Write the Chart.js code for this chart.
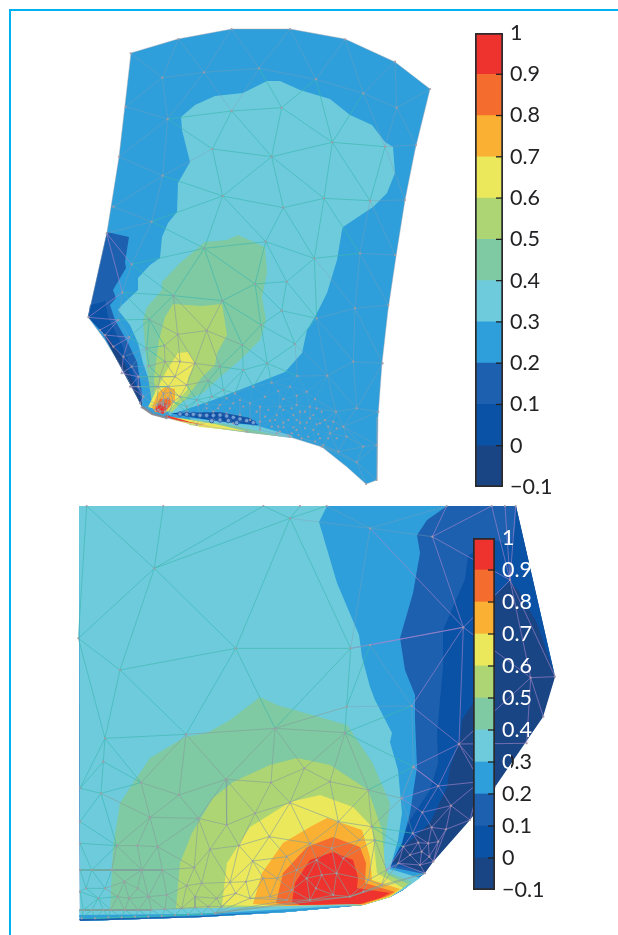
<!DOCTYPE html>
<html><head><meta charset="utf-8">
<style>
html,body{margin:0;padding:0;background:#fff;width:618px;height:935px;overflow:hidden}
canvas{position:absolute;display:block}
#frameTop{position:absolute;left:9px;top:9px;width:609px;height:2px;background:#00b3f0}
#frameLeft{position:absolute;left:9px;top:9px;width:2px;height:926px;background:#00b3f0}
#topMap,#bottomMap{filter:blur(.45px)}
</style>
<script src="https://cdn.jsdelivr.net/npm/chart.js@4/dist/chart.umd.min.js"></script>
</head><body>
<div id="frameTop"></div><div id="frameLeft"></div>
<canvas id="topMap" width="618" height="500" style="left:0;top:0"></canvas>
<canvas id="bottomMap" width="618" height="435" style="left:0;top:500px"></canvas>
<canvas id="topBar" width="143" height="494" style="left:475px;top:13px"></canvas>
<canvas id="bottomBar" width="145" height="392" style="left:473px;top:518px"></canvas>
<script>
// colour scale
const levels=[-0.1,0,0.1,0.2,0.3,0.4,0.5,0.6,0.7,0.8,0.9,1];
const levelColors=['#1a4585','#0a52a5','#1e60b0','#2e9fdb','#6ecbdc','#7fc9a3','#aed573','#ebe85c','#fab032','#f56d2e','#ee332e'];

// top map: contour outlines [x,y]
const topOutline=[[131,53],[178,39],[232,29],[290,29],[345,39],[395,62],[430,89],[415,150],[405,200],[397,250],[388,310],[382,363],[378,417],[377,480],[366,484],[347,467],[322,447],[290,437],[247,432],[197,425],[167,418],[152,414],[142,407],[123,370],[105,340],[88,317],[107,232],[119,157]];
const topL01=[[107,232],[129,237],[125,262],[126,268],[113,290],[116,298],[110,305],[115,320],[128,343],[137,362],[142,393],[142,407],[137,397],[118,362],[103,333],[88,317]];
const topL00=[[88,317],[90,305],[103,302],[105,300],[108,317],[122,345],[135,378],[142,407],[137,397],[118,362],[103,333]];
const topLm1=[[103,333],[118,362],[137,397],[142,407],[140,395],[122,358],[107,335]];
const topL03=[[267,81],[280,81],[300,90],[330,99],[350,115],[372,125],[385,142],[393,147],[395,173],[387,193],[373,207],[343,227],[342,230],[337,260],[327,293],[315,317],[307,330],[302,353],[285,372],[247,387],[213,400],[190,408],[170,415],[150,383],[143,363],[138,343],[130,325],[118,310],[122,305],[138,290],[138,278],[150,265],[160,258],[162,237],[168,223],[177,212],[178,183],[190,162],[182,130],[181,117],[195,105],[215,96],[243,93]];
const topL04=[[238,235],[265,247],[267,273],[262,297],[266,320],[260,340],[240,360],[220,377],[203,393],[180,403],[170,412],[152,403],[148,377],[145,347],[143,320],[147,307],[162,290],[162,282],[180,263],[205,242],[227,240]];
const topL05=[[173,304],[202,306],[222,304],[227,335],[217,353],[215,365],[202,377],[187,397],[172,412],[155,407],[154,377],[159,340],[165,317]];
const topL06=[[178,353],[188,352],[195,363],[188,378],[187,390],[167,412],[148,407],[158,387],[167,370]];
const topL07=[[165,387],[175,389],[175,400],[165,413],[155,412],[152,407],[158,393]];
const topL08=[[160,399],[170,398],[171,405],[163,414],[154,410]];
const topL09=[[158,404],[166,403],[167,408],[163,414],[155,411]];
const topBandBlue=[[170,413],[220,412],[250,418],[258,425],[223,422],[190,417]];
const topBandCyan=[[190,418],[258,426],[293,436],[290,438],[250,432],[195,425]];
const topBandGreen=[[180,418],[230,425],[285,437],[250,433],[190,425]];
const topBandYellow=[[172,417],[215,424],[250,432],[200,427],[170,419]];
const topBandRed=[[166,415],[190,422],[210,426],[180,421],[165,417]];
const topTipEdge=[[142,407],[152,414],[167,418]];
const topBandRings=[[300,552],[320,553],[340,553],[360,556],[380,556],[400,556],[420,555],[440,558],[460,562],[480,567],[500,572],[520,578],[395,572],[420,570],[445,572],[470,578]];
const topDenseDots=[[355,525],[380,535],[415,535],[450,535],[490,530],[530,545],[565,540],[610,540],[635,535],[675,545],[700,555],[725,545],[555,560],[585,570],[625,570],[650,570],[680,578],[720,580],[745,590],[770,595],[575,590],[610,592],[640,592],[675,595],[715,612],[745,625],[770,625],[600,605],[635,610],[655,615],[685,620],[720,625]];

// bottom map: contour outlines [x,y]
const botOutline=[[79,506],[516,506],[555,677],[543,717],[495,787],[470,820],[433,862],[425,873],[403,890],[390,897],[363,905],[287,912],[203,917],[80,921]];
const botL00=[[79,506],[516,506],[555,676],[537,623],[520,593],[510,581],[495,596],[473,703],[462,720],[460,740],[450,767],[447,787],[430,823],[403,847],[393,862],[425,873],[403,890],[390,897],[363,905],[287,912],[203,917],[80,921]];
const botL01=[[79,506],[516,506],[515,530],[510,545],[495,540],[477,549],[468,556],[465,579],[443,630],[443,667],[437,733],[438,763],[430,790],[410,820],[398,850],[391,864],[425,872],[403,890],[390,897],[363,905],[287,912],[203,917],[80,921]];
const botL02=[[79,506],[447,506],[427,520],[417,535],[420,553],[413,593],[400,638],[405,670],[415,695],[415,720],[417,767],[410,813],[402,843],[392,862],[390,867],[424,874],[403,890],[390,897],[363,905],[287,912],[203,917],[80,921]];
const botL03=[[79,506],[327,506],[319,522],[337,583],[359,635],[362,657],[370,687],[375,700],[392,733],[390,742],[398,770],[402,813],[398,840],[390,869],[420,878],[403,890],[390,897],[363,905],[287,912],[203,917],[80,921]];
const botL04=[[110,910],[113,847],[120,803],[133,783],[150,758],[185,737],[207,733],[230,720],[260,697],[277,705],[347,725],[372,762],[390,803],[385,840],[382,870],[412,882],[390,897],[363,905],[287,908],[110,913]];
const botL05=[[176,908],[180,863],[192,833],[213,798],[233,782],[270,765],[297,758],[330,765],[368,790],[382,830],[385,867],[388,875],[408,884],[390,897],[363,905],[287,908]];
const botL06=[[222,905],[227,863],[250,827],[290,802],[320,795],[353,807],[372,827],[377,873],[403,888],[390,897],[363,905],[287,907]];
const botL07=[[253,904],[262,873],[283,843],[310,827],[327,818],[362,830],[370,857],[372,880],[400,889],[390,896],[363,905],[287,906]];
const botL08=[[276,903],[283,873],[307,847],[333,837],[360,847],[366,863],[365,883],[395,892],[385,897],[363,904],[287,905]];
const botL09=[[292,902],[295,883],[310,860],[333,852],[353,860],[358,877],[357,888],[390,893],[380,898],[360,904],[300,905]];
const botStripCyan=[[79,910],[176,909],[287,906],[363,904],[287,912],[203,917],[80,921]];
const botStripBlue=[[79,915],[200,914],[290,909],[360,905],[287,912],[203,917],[80,921]];
const botStripDeep=[[79,919],[200,916],[287,911],[203,917],[80,921]];

// mesh nodes, in crop coordinates
const topNodesUpper=[[152,130],[295,87],[455,57],[630,57],[795,88],[945,155],[1050,237],[1008,405],[975,570],[137,290],[117,440],[100,590],[80,670],[247,203],[372,187],[537,175],[708,208],[850,250],[950,293],[263,327],[455,303],[605,293],[757,397],[915,410],[397,417],[575,440],[248,497],[428,558],[610,593],[732,565],[870,572],[215,635],[557,695],[703,745],[840,730],[945,735]];
const topNodesLower=[[373,55],[155,103],[525,162],[620,155],[127,187],[280,197],[427,212],[605,242],[710,265],[825,235],[925,225],[115,270],[208,268],[293,313],[380,302],[543,285],[75,315],[253,347],[487,345],[645,342],[148,322],[200,355],[345,400],[420,410],[562,400],[820,395],[207,408],[285,440],[385,452],[490,420],[652,438],[742,437],[908,400],[595,483],[650,497],[705,507],[768,545],[830,535],[895,545],[510,520],[555,500],[690,530],[800,620],[850,650],[890,645],[775,665],[730,645],[830,697],[890,750],[858,762],[600,530],[650,525],[540,530],[590,555],[640,555],[690,565],[735,570],[540,575],[595,590],[650,600],[700,600],[750,610],[625,615],[665,625],[705,635],[480,510],[440,505],[395,500],[350,510],[320,530],[250,510],[235,470],[320,465],[255,395],[300,395],[240,440],[265,470],[175,470],[175,440],[155,410],[130,380],[100,350],[60,300],[150,470],[125,430],[180,520],[185,532],[260,565],[350,585],[500,605],[630,620],[725,650],[25,262],[190,500],[300,500],[235,540],[250,525],[280,515],[400,545],[440,550],[480,555],[510,570],[360,555],[320,545],[400,570],[460,580],[540,600],[590,610],[430,480],[465,490],[520,470],[575,458],[630,470],[680,485],[380,522],[420,525],[460,520],[610,507],[660,545],[710,535],[760,575],[570,572],[610,578],[660,578],[710,583],[790,590],[230,525],[245,520],[260,530],[240,545],[255,545],[225,540],[265,505],[250,490],[272,488]];
const botNodesUpper=[[660,55],[253,205],[497,445],[842,445],[150,510],[280,18],[50,18],[580,18],[690,18],[25,415],[770,18],[900,85]];
const botNodesLower=[[348,103],[105,115],[615,85],[825,98],[213,248],[468,238],[780,245],[703,205],[603,248],[895,270],[93,280],[327,285],[660,308],[555,340],[30,365],[240,352],[385,355],[470,375],[805,365],[598,410],[905,380],[140,437],[202,437],[263,440],[420,448],[507,437],[650,470],[720,430],[785,445],[868,420],[915,420],[548,483],[580,535],[622,535],[680,510],[740,480],[820,475],[65,510],[125,510],[215,510],[277,510],[373,503],[480,547],[528,545],[755,525],[800,520],[710,535],[665,570],[738,565],[48,565],[105,565],[163,545],[203,565],[350,557],[395,550],[497,580],[85,595],[143,590],[177,595],[235,590],[290,585],[375,590],[440,595],[540,595],[600,590],[650,600],[720,600],[790,585],[840,590],[880,575],[950,510],[895,540],[935,555],[1030,200],[995,295],[30,265],[30,430],[30,510],[30,575],[30,630],[830,20],[100,185]];
const botNodesRight=[[187,110],[280,382],[420,240],[482,533],[125,618],[267,732],[130,802],[205,858],[157,937],[243,917],[185,982],[128,1000],[228,988],[100,1040],[145,1028],[175,1030],[205,1025],[120,1065],[155,1055],[178,1070],[85,1090],[150,1095],[365,18],[405,18],[230,18],[555,530],[437,18],[0,435],[330,845],[470,730],[520,650],[375,860],[300,960],[190,1085],[165,1120]];
const botNodesStrip=[[20,175],[60,175],[100,172],[140,172],[180,170],[220,170],[260,168],[300,165],[340,163],[380,162],[420,160],[25,150],[50,150],[85,150],[107,150],[150,150],[190,150],[230,150],[270,148],[320,145],[360,142],[400,140],[440,140]];

const pts=a=>a.map(([x,y])=>({x,y}));
const crop=(ox,oy,a)=>a.map(([x,y])=>({x:ox+x/3,y:oy+y/3}));
const inside=(p,poly)=>{let c=false;for(let i=0,j=poly.length-1;i<poly.length;j=i++){const [xi,yi]=poly[i],[xj,yj]=poly[j];if((yi>p.y)!==(yj>p.y)&&p.x<(xj-xi)*(p.y-yi)/(yj-yi)+xi)c=!c;}return c;};
const side=(a,b,c)=>(b.x-a.x)*(c.y-a.y)-(b.y-a.y)*(c.x-a.x);
const crosses=(a,b,c,d)=>{if(a===c||a===d||b===c||b===d)return false;return side(a,b,c)*side(a,b,d)<0&&side(c,d,a)*side(c,d,b)<0;};
function meshEdges(nodes,outline){
  const pairs=[];
  for(let i=0;i<nodes.length;i++)for(let j=i+1;j<nodes.length;j++){
    const a=nodes[i],b=nodes[j],len=Math.hypot(a.x-b.x,a.y-b.y);
    if(len<.5)continue;
    const mx=(a.x+b.x)/2,my=(a.y+b.y)/2,nx=(b.y-a.y)/len*1.5,ny=(a.x-b.x)/len*1.5;
    if(inside({x:mx+nx,y:my+ny},outline)&&inside({x:mx-nx,y:my-ny},outline))pairs.push([a,b,len]);
  }
  pairs.sort((p,q)=>p[2]-q[2]);
  const kept=[];
  for(const p of pairs){if(!kept.some(k=>crosses(p[0],p[1],k[0],k[1])))kept.push(p);}
  return kept;
}
function meshDatasets(edges,classify,nodes){
  const groups={};
  for(const [a,b] of edges){
    const key=classify({x:(a.x+b.x)/2,y:(a.y+b.y)/2});
    (groups[key]=groups[key]||[]).push(a,b,{x:NaN,y:NaN});
  }
  const out=Object.keys(groups).map(c=>({data:groups[c],showLine:true,fill:false,borderColor:c,borderWidth:.8,pointRadius:0,spanGaps:false}));
  out.push({data:nodes,showLine:false,pointRadius:1.1,pointBackgroundColor:'rgba(165,155,165,.95)',pointBorderWidth:0});
  return out;
}
const layer=(poly,level)=>({data:pts(poly),showLine:true,fill:'shape',backgroundColor:levelColors[level],borderWidth:0,pointRadius:0});
function drawMap(id,yMin,yMax,layers,extra){
  const datasets=layers.concat(extra).reverse(); // first dataset is painted last
  new Chart(document.getElementById(id),{type:'scatter',data:{datasets},options:{
    responsive:false,animation:false,events:[],layout:{padding:0,autoPadding:false},
    plugins:{legend:{display:false},tooltip:{enabled:false}},
    scales:{x:{type:'linear',display:false,min:0,max:618},y:{type:'linear',display:false,min:yMin,max:yMax,reverse:true}}
  }});
}
const TEAL='rgba(60,182,175,.8)',GREY='rgba(128,158,180,.5)',FAINT='rgba(128,158,180,.28)',WARM='rgba(130,160,155,.8)',PURPLE='rgba(170,135,205,.75)';

const topLayers=[layer(topOutline,3),layer(topL01,2),layer(topL00,1),layer(topLm1,0),layer(topL03,4),layer(topL04,5),layer(topL05,6),layer(topL06,7),layer(topL07,8),layer(topL08,9),layer(topL09,10),layer(topBandBlue,1),layer(topBandCyan,4),layer(topBandGreen,5),layer(topBandYellow,7),layer(topBandRed,10)];
const topNodes=crop(80,10,topNodesUpper).concat(crop(80,230,topNodesLower));
const topMesh=meshDatasets(meshEdges(topNodes,topOutline),p=>{
  if(inside(p,topL01))return PURPLE;
  if(inside(p,topL05))return WARM;
  if(inside(p,topL03))return TEAL;
  if(p.y>378&&p.x>205&&p.x<325)return FAINT;
  return GREY;
},topNodes);
const topEdgeLine={data:pts(topOutline.concat([topOutline[0]])),showLine:true,fill:false,borderColor:'rgba(165,165,175,.55)',borderWidth:.8,pointRadius:0};
const topTip={data:pts(topTipEdge),showLine:true,fill:false,borderColor:'rgba(130,130,140,.85)',borderWidth:2.2,pointRadius:0};
const topRings={data:crop(80,230,topBandRings),showLine:false,pointRadius:2.2,pointBackgroundColor:'rgba(120,170,215,.9)',pointBorderColor:'#2a4fa8',pointBorderWidth:.8};
const topDots={data:crop(80,230,topDenseDots),showLine:false,pointRadius:1.1,pointBackgroundColor:'rgba(165,155,165,.95)',pointBorderWidth:0};
drawMap('topMap',0,500,topLayers,topMesh.concat([topEdgeLine,topTip,topRings,topDots]));

const botLayers=[layer(botOutline,0),layer(botL00,1),layer(botL01,2),layer(botL02,3),layer(botL03,4),layer(botL04,5),layer(botL05,6),layer(botL06,7),layer(botL07,8),layer(botL08,9),layer(botL09,10),layer(botStripCyan,4),layer(botStripBlue,3),layer(botStripDeep,2)];
const botNodes=crop(70,500,botNodesUpper).concat(crop(70,700,botNodesLower),crop(370,500,botNodesRight),crop(75,860,botNodesStrip));
const botMesh=meshDatasets(meshEdges(botNodes,botOutline),p=>{
  if(inside(p,botL04))return WARM;
  if(inside(p,botL03))return TEAL;
  if(inside(p,botL02))return GREY;
  return PURPLE;
},botNodes);
drawMap('bottomMap',500,935,botLayers,botMesh);

// colour bars: inner tick marks are placed through the value scale
const innerTicks={id:'innerTicks',afterDatasetsDraw(chart){
  const {ctx,scales:{y},chartArea:{right}}=chart;
  ctx.save();ctx.strokeStyle='#222';ctx.lineWidth=1.3;
  y.ticks.forEach(t=>{
    if(t.value<=levels[0]+1e-6||t.value>=levels[levels.length-1]-1e-6)return;
    const py=y.getPixelForValue(t.value);
    ctx.beginPath();ctx.moveTo(right-7,py);ctx.lineTo(right,py);ctx.stroke();
  });
  ctx.restore();
}};
function drawBar(id,axisWidth,labelColor){
  const sets=levelColors.map((c,i)=>({data:[[levels[i],levels[i+1]]],backgroundColor:c,borderWidth:0,grouped:false,barPercentage:1,categoryPercentage:1}));
  sets.unshift({data:[[levels[0],levels[levels.length-1]]],backgroundColor:'rgba(0,0,0,0)',borderColor:'#2b2b2e',borderWidth:1.4,borderSkipped:false,grouped:false,barPercentage:1,categoryPercentage:1});
  new Chart(document.getElementById(id),{type:'bar',plugins:[innerTicks],data:{labels:['scale'],datasets:sets},options:{
    responsive:false,animation:false,events:[],
    layout:{padding:{top:20,bottom:20},autoPadding:false},
    plugins:{legend:{display:false},tooltip:{enabled:false}},
    scales:{
      x:{display:false,grid:{display:false}},
      y:{position:'right',min:levels[0],max:levels[levels.length-1],
        afterFit:s=>{s.width=axisWidth;s.paddingTop=0;s.paddingBottom=0;},
        border:{display:false},
        grid:{display:false,tickLength:0,drawTicks:false},
        ticks:{stepSize:0.1,autoSkip:false,maxRotation:0,padding:7,color:labelColor,font:{family:'Lato',size:21.5},
          callback:v=>{const r=Math.round(v*10)/10;return r<0?'\u2212'+Math.abs(r):String(r);}}
      }
    }
  }});
}
drawBar('topBar',115,'#232326');
drawBar('bottomBar',123,c=>{
  const v=Math.round(c.tick.value*10)/10;
  if(v>=0.4)return '#ffffff';
  if(v===0.3){const g=c.chart.ctx.createLinearGradient(0,0,30,0);g.addColorStop(0,'#fff');g.addColorStop(.3,'#fff');g.addColorStop(.31,'#232326');g.addColorStop(1,'#232326');return g;}
  return '#232326';
});
</script>
</body></html>
